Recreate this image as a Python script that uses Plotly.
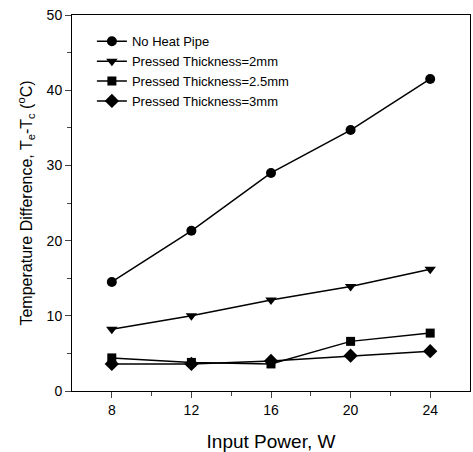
import plotly.graph_objects as go

power = [8, 12, 16, 20, 24]
no_heat_pipe = [14.5, 21.3, 29.0, 34.7, 41.5]
thick_2mm = [8.2, 10.0, 12.1, 13.9, 16.2]
thick_2_5mm = [4.4, 3.8, 3.6, 6.6, 7.7]
thick_3mm = [3.6, 3.6, 4.0, 4.7, 5.3]

series = [
    ("No Heat Pipe", no_heat_pipe, "circle", 10),
    ("Pressed Thickness=2mm", thick_2mm, "triangle-down", 10),
    ("Pressed Thickness=2.5mm", thick_2_5mm, "square", 9),
    ("Pressed Thickness=3mm", thick_3mm, "diamond", 11),
]

fig = go.Figure()
for name, vals, sym, sz in series:
    fig.add_trace(go.Scatter(
        x=power, y=vals, name=name, mode="lines+markers",
        line=dict(color="black", width=1.5),
        marker=dict(symbol=sym, size=sz, color="black"),
    ))

font = "Liberation Sans, Arial, sans-serif"
fig.update_layout(
    width=473, height=452,
    margin=dict(l=72, r=3, t=15, b=61),
    paper_bgcolor="white", plot_bgcolor="white",
    font=dict(family=font, color="black"),
    showlegend=True,
    legend=dict(x=0.05, y=0.97, xanchor="left", yanchor="top",
                font=dict(size=13, family=font), bgcolor="rgba(0,0,0,0)",
                tracegroupgap=0, itemwidth=30),
    xaxis=dict(range=[6, 26], tickvals=[8, 12, 16, 20, 24],
               ticks="outside", ticklen=6, tickwidth=1,
               minor=dict(tickvals=[10, 14, 18, 22], ticks="outside", ticklen=4),
               showline=True, linecolor="black", linewidth=1, mirror=True,
               showgrid=False, zeroline=False, automargin=False,
               tickfont=dict(size=14),
               title=dict(text="Input Power, W", font=dict(size=19), standoff=20)),
    yaxis=dict(range=[0, 50], tickvals=[0, 10, 20, 30, 40, 50],
               ticks="outside", ticklen=6, tickwidth=1,
               minor=dict(tickvals=[5, 15, 25, 35, 45], ticks="outside", ticklen=4),
               showline=True, linecolor="black", linewidth=1, mirror=True,
               showgrid=False, zeroline=False, automargin=False,
               tickfont=dict(size=14),
               title=dict(text="Temperature Difference, T<sub>e</sub>-T<sub>c</sub> (<sup>o</sup>C)",
                          font=dict(size=16), standoff=10)),
)

fig.write_html("out.html", config={"displayModeBar": False},
               post_script="document.body.style.margin='0';document.body.style.overflow='hidden';")
